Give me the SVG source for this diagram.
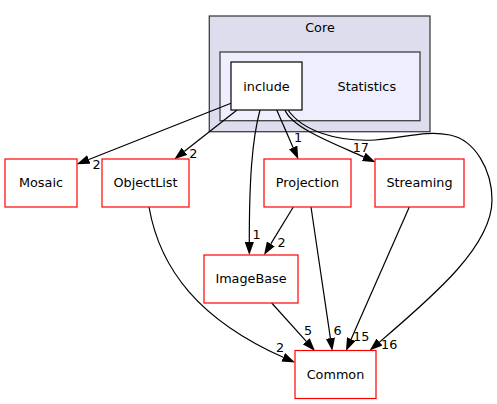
<svg xmlns="http://www.w3.org/2000/svg" width="497" height="404" viewBox="0 0 497 404">
<style>
  text { font-family: "DejaVu Sans", "Liberation Sans", sans-serif; font-size: 12.8px; fill: #000; text-anchor: middle; }
  .cluster-outer { fill: #ddddee; stroke: #404040; stroke-width: 1.3; }
  .cluster-inner { fill: #eeeeff; stroke: #404040; stroke-width: 1.3; }
  .node-main { fill: #ffffff; stroke: #000; stroke-width: 1.2; }
  .node { fill: #ffffff; stroke: #ff0000; stroke-width: 1.2; }
  .edge { fill: none; stroke: #000; stroke-width: 1.2; marker-end: url(#arrow); }
</style>
<defs>
  <marker id="arrow" viewBox="0 0 13 9.2" refX="0" refY="4.6" markerWidth="13" markerHeight="9.2" markerUnits="userSpaceOnUse" orient="auto">
    <path d="M0,0 L13,4.6 L0,9.2 z" fill="#000"/>
  </marker>
</defs>
<rect width="497" height="404" fill="#ffffff"/>

<g id="cluster-Core">
  <rect class="cluster-outer" x="209.3" y="16" width="220.7" height="115.7"/>
  <text x="320" y="31.7">Core</text>
</g>
<g id="cluster-Statistics">
  <rect class="cluster-inner" x="220" y="52" width="200" height="68.7"/>
  <text x="366.8" y="90.5">Statistics</text>
</g>

<g id="connectors">
  <path class="edge" d="M231,103.3 L88.8,159.5"/>
  <text x="96.7" y="168.5">2</text>
  <path class="edge" d="M237,110 L184.5,151.3"/>
  <text x="193.3" y="158.3">2</text>
  <path class="edge" d="M260,110 C252,140 249.3,180 249.3,242"/>
  <text x="256.7" y="239">1</text>
  <path class="edge" d="M276.7,110 L293.1,147.4"/>
  <text x="298" y="142.3">1</text>
  <path class="edge" d="M285,110 C292,128 335,144 363.7,156.9"/>
  <text x="360.8" y="152.3">17</text>
  <path class="edge" d="M288,110 C302,130 335,142 375,140 C405,138 425,130 450,135 C475,140 492,170 492,200 C492,245 437,293 379.5,342.1"/>
  <text x="389.2" y="349.3">16</text>
  <path class="edge" d="M149,207 C160,270 200,320 283.2,357.3"/>
  <text x="280" y="352.3">2</text>
  <path class="edge" d="M293.3,207 L270.8,243.9"/>
  <text x="281.7" y="247.3">2</text>
  <path class="edge" d="M311,207 L330.4,338.1"/>
  <text x="337.7" y="335">6</text>
  <path class="edge" d="M409.3,207 L351.2,339.1"/>
  <text x="361.2" y="341">15</text>
  <path class="edge" d="M271.7,303 L306.3,341.3"/>
  <text x="308" y="335">5</text>
</g>

<g id="node-include">
  <rect class="node-main" x="231" y="62" width="71" height="48"/>
  <text x="266.5" y="90.5">include</text>
</g>
<g id="node-Mosaic">
  <rect class="node" x="5" y="159" width="72" height="48"/>
  <text x="41" y="187">Mosaic</text>
</g>
<g id="node-ObjectList">
  <rect class="node" x="102" y="159" width="87" height="48"/>
  <text x="145.5" y="187">ObjectList</text>
</g>
<g id="node-Projection">
  <rect class="node" x="264" y="159" width="87" height="48"/>
  <text x="307.5" y="187">Projection</text>
</g>
<g id="node-Streaming">
  <rect class="node" x="375" y="159" width="89" height="48"/>
  <text x="419.5" y="187">Streaming</text>
</g>
<g id="node-ImageBase">
  <rect class="node" x="204" y="255" width="94" height="48"/>
  <text x="251" y="283">ImageBase</text>
</g>
<g id="node-Common">
  <rect class="node" x="295" y="350.5" width="81" height="48"/>
  <text x="335.5" y="378.5">Common</text>
</g>
</svg>
